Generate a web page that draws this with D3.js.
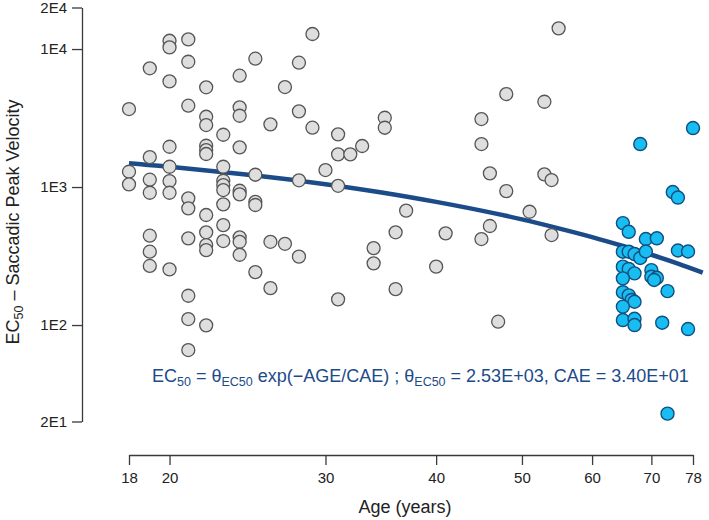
<!DOCTYPE html>
<html>
<head>
<meta charset="utf-8">
<script src="https://cdn.jsdelivr.net/npm/d3@7"></script>
<style>
  html, body { margin: 0; padding: 0; background: #fff; }
  svg { display: block; font-family: "Liberation Sans", Arial, Helvetica, sans-serif; }
</style>
</head>
<body>
<svg id="chart" width="709" height="520"></svg>
<script>
// ---- data ----
const greyAges = [29,20,20,21,19,21,25,28,20,24,22,27,18,21,24,24,22,22,28,26,29,35,35,23,31,20,22,22,22,24,33,31,32,19,20,23,25,28,30,31,18,18,19,20,19,20,21,21,23,23,23,23,24,24,25,25,22,23,19,21,22,22,22,23,24,24,24,26,27,28,19,19,20,25,26,31,21,21,22,21,34,34,36,36,37,55,48,53,45,45,46,53,54,48,51,41,46,45,54,40,47];
const greyValues = [12850,11480,10280,11750,7250,8090,8510,7960,5830,6410,5280,5305,3675,3885,3780,3285,3230,2813,3537,2846,2691,3178,2690,2393,2410,1959,1992,1854,1735,1940,1983,1726,1726,1650,1403,1403,1228,1119,1328,1021,1291,1046,1130,1105,909,909,828,701,1111,1033,951,749,940,885,782,741,627,530,444,425,470,380,349,406,432,401,323,401,388,313,340,268,253,242,185,153.6,163,110.5,99.5,65.9,361,280,470,182,675,14125,4720,4150,3110,2049,1257,1236,1124,935,662,462,522,420,449,265,105.7];

const blueAges = [68,78,74,75,65,66,69,71,75,77,65,66,67,68,69,65,66,67,65,70,70,71,70.5,73,65,66,66.5,67,65,65,67,67,72,77,73];
const blueValues = [2049,2676,920,839,548,474,420,425,347,341,340,340,327,306,341,265,255,237,218,250,224,220,212,176,173,164,152,147.5,136,108.7,111,100,104,93.5,22.8];

// fitted curve EC50 = 2.53E+03 * exp(-AGE/34)
const curveAges = [18,20,25,30,35,40,45,50,55,60,65,70,75,80];
const curveValues = [1490,1403,1212,1049,906,781,675,583,502,434,374,323,279,240];

const xTicks = [18,20,30,40,50,60,70,78];
const yTicks = [20,100,1000,10000,20000];
const yTickLabels = ["2E1","1E2","1E3","1E4","2E4"];

// ---- drawing ----
const svg = d3.select("#chart");
const x = d3.scaleLog().domain([18,78]).range([129,693]);
const y = d3.scaleLog().domain([20,20000]).range([421.5,7.5]);

const axisColor = "#3a3a3a";
const navy = "#1c4b8a";

// y axis
const yAxis = d3.axisLeft(y).tickValues(yTicks)
  .tickFormat((d,i)=>yTickLabels[i]).tickSize(10).tickPadding(5).tickSizeOuter(0);
const gy = svg.append("g").attr("transform","translate(82,0)").call(yAxis);
gy.select(".domain").attr("stroke",axisColor).attr("stroke-width",1.3);
gy.selectAll(".tick line").attr("stroke",axisColor).attr("stroke-width",1.3);
gy.selectAll(".tick text").attr("font-size",15).attr("fill","#222")
  .attr("font-family","Liberation Sans, Arial, sans-serif");

// x axis
const xAxis = d3.axisBottom(x).tickValues(xTicks).tickFormat(d3.format("d"))
  .tickSize(10).tickPadding(7).tickSizeOuter(0);
const gx = svg.append("g").attr("transform","translate(0,455)").call(xAxis);
gx.select(".domain").attr("stroke",axisColor).attr("stroke-width",1.3);
gx.selectAll(".tick line").attr("stroke",axisColor).attr("stroke-width",1.3);
gx.selectAll(".tick text").attr("font-size",15).attr("fill","#222")
  .attr("font-family","Liberation Sans, Arial, sans-serif");

// axis titles
svg.append("text").attr("x",405).attr("y",513).attr("text-anchor","middle")
  .attr("font-size",18).attr("fill","#222").text("Age (years)");

const yl = svg.append("text").attr("transform","translate(19,222) rotate(-90)")
  .attr("text-anchor","middle").attr("font-size",18).attr("fill","#222");
yl.append("tspan").text("EC");
yl.append("tspan").attr("font-size",12.5).attr("dy",4).text("50");
yl.append("tspan").attr("dy",-4).text(" \u2013 Saccadic Peak Velocity");

// fitted curve
const xc = d3.scaleLog().domain([18,78]).range([129,693]);
const line = d3.line().x((d,i)=>xc(curveAges[i])).y((d,i)=>y(curveValues[i])).curve(d3.curveNatural);
svg.append("path").datum(curveAges).attr("d",line)
  .attr("fill","none").attr("stroke",navy).attr("stroke-width",4.5).attr("stroke-linecap","butt");

// grey points
svg.append("g").selectAll("circle").data(greyAges).join("circle")
  .attr("cx",(d)=>x(d)).attr("cy",(d,i)=>y(greyValues[i])).attr("r",6.5)
  .attr("fill","#dedede").attr("stroke","#555").attr("stroke-width",1.3);

// blue points
svg.append("g").selectAll("circle").data(blueAges).join("circle")
  .attr("cx",(d)=>x(d)).attr("cy",(d,i)=>y(blueValues[i])).attr("r",6.5)
  .attr("fill","#18bdf2").attr("stroke","#114f80").attr("stroke-width",1.4);

// formula annotation
const ft = svg.append("text").attr("x",152).attr("y",382).attr("font-size",18).attr("fill",navy);
ft.append("tspan").text("EC");
ft.append("tspan").attr("font-size",12.5).attr("dy",4).text("50");
ft.append("tspan").attr("dy",-4).text(" = \u03b8");
ft.append("tspan").attr("font-size",12.5).attr("dy",4).text("EC50");
ft.append("tspan").attr("dy",-4).text(" exp(\u2212AGE/CAE) ; \u03b8");
ft.append("tspan").attr("font-size",12.5).attr("dy",4).text("EC50");
ft.append("tspan").attr("dy",-4).text(" = 2.53E+03, CAE = 3.40E+01");
</script>
</body>
</html>
